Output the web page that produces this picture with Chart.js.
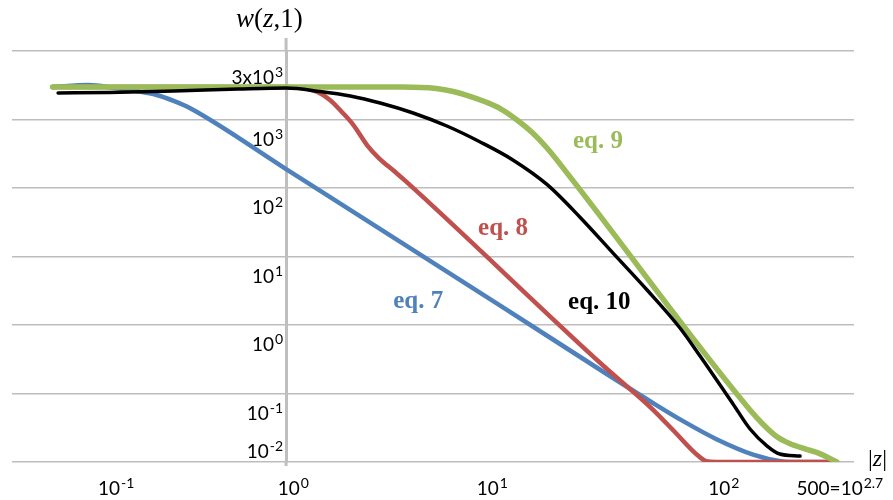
<!DOCTYPE html>
<html>
<head>
<meta charset="utf-8">
<script src="https://cdn.jsdelivr.net/npm/chart.js@4/dist/chart.umd.min.js"></script>
<style>
html, body { margin: 0; padding: 0; background: #fff; }
</style>
</head>
<body>
<canvas id="wChart" width="893" height="500"></canvas>
<script>
// |z| sample points and w(z,1) values, one pair per curve
var zEq7 = [0.082, 0.12, 0.16, 0.2, 0.25, 0.3, 0.36, 1, 10, 30, 50, 70, 100, 150, 200, 250, 365];
var wEq7 = [2980, 3190, 2884, 2606, 2277, 1869, 1449, 189, 1.89, 0.206, 0.0752, 0.0398, 0.0217, 0.0127, 0.0103, 0.01, 0.01];
var zEq8 = [0.082, 1, 1.2, 1.4, 1.6, 1.8, 2.05, 2.4, 2.7, 3.2, 3.6, 30, 50, 65, 80, 90, 100, 365];
var wEq8 = [2980, 2980, 2884, 2518, 1928, 1331, 845, 410, 274, 174, 126, 0.252, 0.0614, 0.0265, 0.0135, 0.0103, 0.01, 0.01];
var zEq9 = [0.082, 3.5, 5, 6, 7, 8.5, 10, 12, 14, 16.4, 20, 144, 165, 190, 220, 260, 300, 365];
var wEq9 = [2980, 2980, 2830, 2564, 2240, 1799, 1422, 960, 640, 380, 175, 0.0574, 0.0359, 0.024, 0.0186, 0.0155, 0.0135, 0.01];
var zEq10 = [0.087, 0.15, 0.3, 0.6, 1, 1.44, 1.99, 2.74, 3.9, 5.6, 8, 11.4, 16.4, 23.3, 33.2, 47.8, 68, 84.3, 120, 144, 173, 198, 246];
var wEq10 = [2438, 2478, 2606, 2787, 2884, 2564, 2203, 1741, 1245, 804, 470, 255, 112, 37.5, 11.2, 3.24, 0.904, 0.352, 0.0703, 0.0303, 0.0171, 0.0131, 0.0122];

// axis ranges, grid and tick labels
var zMin = 0.0531, zMax = 438.5;
var yGridValues = [0.01, 0.1, 1, 10, 100, 1000, 10000];
var yTickValues = [3000, 1000, 100, 10, 1, 0.1, 0.01];
var yTickBase = ['3x10', '10', '10', '10', '10', '10', '10'];
var yTickExp = ['3', '3', '2', '1', '0', '-1', '-2'];
var xTickBase = ['10', '10', '10', '10', '500=10'];
var xTickExp = ['-1', '0', '1', '2', '2.7'];
var xLabelAt = [0.162, 1.08, 9.1, 108.7, 377];

// curve labels, anchored at (|z|, w) of their left baseline
var eqNames = ['eq. 7', 'eq. 8', 'eq. 9', 'eq. 10'];
var eqColors = ['#4f81bd', '#c0504d', '#9bbb59', '#000000'];
var eqLabelZ = [3.15, 7.82, 21.6, 20.5];
var eqLabelW = [1.77, 20.6, 384, 1.71];

function toPoints(zs, ws) {
    return zs.map(function(z, i) { return { x: z, y: ws[i] }; });
}

function drawPower(ctx, base, exp, x, y, align) {
    ctx.font = '19px Lato';
    var wb = ctx.measureText(base).width;
    ctx.font = '14px Lato';
    var we = ctx.measureText(exp).width;
    var total = wb + 1 + we;
    var left = x;
    if (align === 'right') left = x - total;
    else if (align === 'center') left = x - total / 2;
    ctx.textAlign = 'left';
    ctx.textBaseline = 'alphabetic';
    ctx.font = '19px Lato';
    ctx.fillText(base, left, y);
    ctx.font = '14px Lato';
    ctx.fillText(exp, left + wb + 1, y - 7);
}

function drawMixed(ctx, parts, x, y, size) {
    var cx = x;
    ctx.textAlign = 'left';
    ctx.textBaseline = 'alphabetic';
    parts.forEach(function(p) {
        ctx.font = (p[1] ? 'italic ' : '') + size + 'px "Liberation Serif"';
        ctx.fillText(p[0], cx, y);
        cx += ctx.measureText(p[0]).width;
    });
}

var labelsPlugin = {
    id: 'wLabels',
    afterDraw: function(chart) {
        var ctx = chart.ctx;
        var xs = chart.scales.x, ys = chart.scales.y, area = chart.chartArea;
        var axisX = xs.getPixelForValue(1);
        ctx.save();
        // vertical axis sticks out a bit above and below the plot area
        ctx.strokeStyle = '#bfbfbf';
        ctx.lineWidth = 3;
        ctx.beginPath();
        ctx.moveTo(axisX, area.top - 13);
        ctx.lineTo(axisX, area.top);
        ctx.moveTo(axisX, area.bottom);
        ctx.lineTo(axisX, area.bottom + 4);
        ctx.stroke();

        ctx.fillStyle = '#000';
        yTickValues.forEach(function(v, i) {
            var py = ys.getPixelForValue(v);
            var off = (v === 3000) ? -3 : (v === 0.01 ? -4 : 26);
            drawPower(ctx, yTickBase[i], yTickExp[i], axisX - 3, py + off, 'right');
        });
        xLabelAt.forEach(function(v, i) {
            drawPower(ctx, xTickBase[i], xTickExp[i], xs.getPixelForValue(v), area.bottom + 33, 'center');
        });

        drawMixed(ctx, [['w', true], ['(', false], ['z', true], [',1)', false]], axisX - 50, area.top - 24, 27);
        drawMixed(ctx, [['|', false], ['z', true], ['|', false]], area.right + 14, area.bottom + 4, 24);

        ctx.font = 'bold 25px "Liberation Serif"';
        ctx.textAlign = 'left';
        ctx.textBaseline = 'alphabetic';
        eqNames.forEach(function(n, i) {
            ctx.fillStyle = eqColors[i];
            ctx.fillText(n, xs.getPixelForValue(eqLabelZ[i]), ys.getPixelForValue(eqLabelW[i]));
        });
        ctx.restore();
    }
};

function lineSet(label, pts, color, width, order) {
    return {
        label: label,
        data: pts,
        borderColor: color,
        backgroundColor: color,
        borderWidth: width,
        pointRadius: 0,
        fill: false,
        cubicInterpolationMode: 'monotone',
        borderCapStyle: 'round',
        borderJoinStyle: 'round',
        order: order
    };
}

var chart = new Chart(document.getElementById('wChart'), {
    type: 'line',
    data: {
        datasets: [
            lineSet('eq. 7', toPoints(zEq7, wEq7), '#4f81bd', 4.5, 4),
            lineSet('eq. 8', toPoints(zEq8, wEq8), '#c0504d', 4.5, 3),
            lineSet('eq. 9', toPoints(zEq9, wEq9), '#9bbb59', 5.5, 2),
            lineSet('eq. 10', toPoints(zEq10, wEq10), '#000000', 3.5, 1)
        ]
    },
    options: {
        responsive: false,
        animation: false,
        layout: { padding: { left: 12, right: 39, top: 51, bottom: 38 } },
        plugins: { legend: { display: false }, tooltip: { enabled: false } },
        scales: {
            x: {
                type: 'logarithmic',
                min: zMin,
                max: zMax,
                display: false
            },
            y: {
                type: 'logarithmic',
                min: 0.01,
                max: 10000,
                position: { x: 1 },
                afterBuildTicks: function(s) {
                    s.ticks = yGridValues.map(function(v) { return { value: v }; });
                },
                ticks: { display: false },
                grid: { color: '#bdbdbd', lineWidth: 1.5, drawTicks: false },
                border: { color: '#bfbfbf', width: 3 }
            }
        }
    },
    plugins: [labelsPlugin]
});
</script>
</body>
</html>
